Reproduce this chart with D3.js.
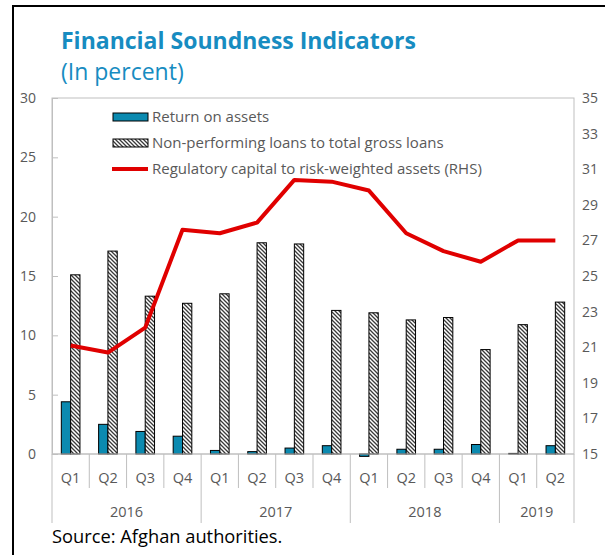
<!DOCTYPE html>
<html>
<head>
<meta charset="utf-8">
<script src="https://cdn.jsdelivr.net/npm/d3@7"></script>
<style>
  html, body { margin: 0; padding: 0; background: #fff; }
  svg { display: block; font-family: "Open Sans", "Noto Sans", sans-serif; }
</style>
</head>
<body>
<svg id="chart" width="605" height="555"></svg>
<script>
// Quarterly financial soundness indicators, 2016 Q1 – 2019 Q2
const quarters = ["Q1","Q2","Q3","Q4","Q1","Q2","Q3","Q4","Q1","Q2","Q3","Q4","Q1","Q2"];
const years    = ["2016","2016","2016","2016","2017","2017","2017","2017","2018","2018","2018","2018","2019","2019"];
const returnOnAssets = [4.4, 2.5, 1.9, 1.5, 0.3, 0.2, 0.5, 0.7, -0.2, 0.4, 0.4, 0.8, 0.05, 0.7];
const nplRatio       = [15.1, 17.1, 13.3, 12.7, 13.5, 17.8, 17.7, 12.1, 11.9, 11.3, 11.5, 8.8, 10.9, 12.8];
const capitalRatio   = [21.1, 20.7, 22.1, 27.6, 27.4, 28.0, 30.4, 30.3, 29.8, 27.4, 26.4, 25.8, 27.0, 27.0];
const leftTicks  = [0, 5, 10, 15, 20, 25, 30];
const rightTicks = [15, 17, 19, 21, 23, 25, 27, 29, 31, 33, 35];
const seriesNames = [
  "Return on assets",
  "Non-performing loans to total gross loans",
  "Regulatory capital to risk-weighted assets (RHS)"
];

const svg = d3.select("#chart");
const plot = { left: 52, right: 574, top: 98, bottom: 454 };
const grey = "#595959", axisGrey = "#bfbfbf";
const teal = "#0b8ab0", red = "#e00000", titleBlue = "#178cc1";

const keys = quarters.map((q, i) => years[i] + " " + q);
const x = d3.scaleBand().domain(keys).range([plot.left, plot.right]).padding(0);
const yL = d3.scaleLinear().domain([0, 30]).range([plot.bottom, plot.top]);
const yR = d3.scaleLinear().domain([15, 35]).range([plot.bottom, plot.top]);

// outer frame
svg.append("path").attr("d", "M13,555 V6 H605")
  .attr("fill", "none").attr("stroke", "#000").attr("stroke-width", 2);

// title
svg.append("text").attr("x", 61).attr("y", 49)
  .attr("fill", titleBlue).attr("font-size", 23).attr("font-weight", 700)
  .text("Financial Soundness Indicators");
svg.append("text").attr("x", 61).attr("y", 80)
  .attr("fill", titleBlue).attr("font-size", 23)
  .text("(In percent)");

// hatch pattern for the NPL bars
const defs = svg.append("defs");
const pat = defs.append("pattern").attr("id", "hatch")
  .attr("patternUnits", "userSpaceOnUse").attr("width", 4).attr("height", 4);
pat.append("rect").attr("width", 4).attr("height", 4).attr("fill", "#fff");
pat.append("path").attr("d", "M-1,-1 L5,5 M-1,3 L1,5 M3,-1 L5,1")
  .attr("stroke", "#3a3a3a").attr("stroke-width", 1.3);

// plot border
svg.append("rect").attr("x", plot.left).attr("y", plot.top)
  .attr("width", plot.right - plot.left).attr("height", plot.bottom - plot.top)
  .attr("fill", "none").attr("stroke", axisGrey).attr("stroke-width", 1);

// left axis
const axL = svg.append("g").attr("transform", `translate(${plot.left},0)`)
  .call(d3.axisLeft(yL).tickValues(leftTicks).tickSizeInner(-6).tickSizeOuter(0).tickPadding(16));
axL.select(".domain").attr("stroke", axisGrey);
axL.selectAll(".tick line").attr("stroke", axisGrey);
axL.selectAll(".tick text").attr("fill", grey).attr("font-size", 14)
  .attr("font-family", "Open Sans, sans-serif");

// right axis
const axR = svg.append("g").attr("transform", `translate(${plot.right},0)`)
  .call(d3.axisRight(yR).tickValues(rightTicks).tickSize(0).tickPadding(8));
axR.select(".domain").remove();
axR.selectAll(".tick text").attr("fill", grey).attr("font-size", 14)
  .attr("font-family", "Open Sans, sans-serif");

// bars
const bw = x.bandwidth() * 0.25;
const cx = k => x(k) + x.bandwidth() / 2;
svg.append("g").selectAll("rect").data(keys).join("rect")
  .attr("x", k => cx(k) - bw)
  .attr("y", (k, i) => yL(Math.max(0, returnOnAssets[i])))
  .attr("width", bw)
  .attr("height", (k, i) => Math.abs(yL(returnOnAssets[i]) - yL(0)))
  .attr("fill", teal).attr("stroke", "#000").attr("stroke-width", 1);
svg.append("g").selectAll("rect").data(keys).join("rect")
  .attr("x", k => cx(k))
  .attr("y", (k, i) => yL(nplRatio[i]))
  .attr("width", bw)
  .attr("height", (k, i) => yL(0) - yL(nplRatio[i]))
  .attr("fill", "url(#hatch)").attr("stroke", "#000").attr("stroke-width", 1);

// category axis line
svg.append("line").attr("x1", plot.left).attr("x2", plot.right)
  .attr("y1", plot.bottom).attr("y2", plot.bottom).attr("stroke", axisGrey);

// capital ratio line (RHS)
const line = d3.line().x((d, i) => cx(keys[i])).y(d => yR(d)).curve(d3.curveLinear);
svg.append("path").datum(capitalRatio).attr("d", line)
  .attr("fill", "none").attr("stroke", red).attr("stroke-width", 4)
  .attr("stroke-linejoin", "round");

// quarter labels and separators
const bottom = svg.append("g");
keys.forEach((k, i) => {
  const isYearStart = i === 0 || years[i] !== years[i - 1];
  const xl = x(k);
  bottom.append("line").attr("x1", xl).attr("x2", xl)
    .attr("y1", plot.bottom).attr("y2", isYearStart ? 523 : 488)
    .attr("stroke", axisGrey);
  bottom.append("text").attr("x", cx(k)).attr("y", 483)
    .attr("text-anchor", "middle").attr("fill", grey).attr("font-size", 14.5)
    .text(quarters[i]);
});
bottom.append("line").attr("x1", plot.right).attr("x2", plot.right)
  .attr("y1", plot.bottom).attr("y2", 523).attr("stroke", axisGrey);

// year labels
const yearList = Array.from(new Set(years));
yearList.forEach(yr => {
  const ks = keys.filter((k, i) => years[i] === yr);
  const x0 = x(ks[0]), x1 = x(ks[ks.length - 1]) + x.bandwidth();
  bottom.append("text").attr("x", (x0 + x1) / 2).attr("y", 517)
    .attr("text-anchor", "middle").attr("fill", grey).attr("font-size", 14.5)
    .text(yr);
});

// legend
const lg = svg.append("g");
const lgX = 113, lgW = 35, rows = [117, 143, 169];
lg.append("rect").attr("x", lgX).attr("y", rows[0] - 4).attr("width", lgW).attr("height", 8)
  .attr("fill", teal).attr("stroke", "#000");
lg.append("rect").attr("x", lgX).attr("y", rows[1] - 4).attr("width", lgW).attr("height", 8)
  .attr("fill", "url(#hatch)").attr("stroke", "#000");
lg.append("line").attr("x1", lgX - 1).attr("x2", lgX + lgW).attr("y1", rows[2]).attr("y2", rows[2])
  .attr("stroke", red).attr("stroke-width", 4);
seriesNames.forEach((n, i) => {
  lg.append("text").attr("x", 152).attr("y", rows[i] + 5)
    .attr("fill", grey).attr("font-size", 15).text(n);
});

// source note
svg.append("text").attr("x", 52).attr("y", 543)
  .attr("fill", "#000").attr("font-size", 18.3).text("Source: Afghan authorities.");
</script>
</body>
</html>
